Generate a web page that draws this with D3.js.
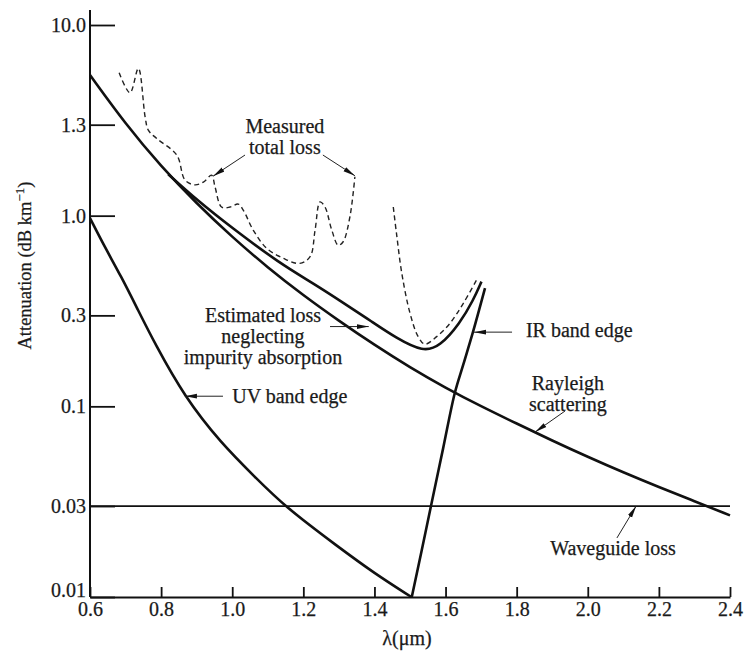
<!DOCTYPE html>
<html>
<head>
<meta charset="utf-8">
<script src="https://cdn.jsdelivr.net/npm/d3@7"></script>
<style>
  html, body { margin: 0; padding: 0; background: #ffffff; }
  svg { display: block; }
  text { font-family: "Liberation Serif", "Times New Roman", serif; fill: #1a1a1a; }
</style>
</head>
<body>
<svg id="chart" width="744" height="651"></svg>
<script>
// ---------- data (wavelength in µm, attenuation in dB/km) ----------
const xTicks = [0.6, 0.8, 1.0, 1.2, 1.4, 1.6, 1.8, 2.0, 2.2, 2.4];
const xTickLabels = ["0.6", "0.8", "1.0", "1.2", "1.4", "1.6", "1.8", "2.0", "2.2", "2.4"];
const yTicks = [0.01, 0.03, 0.1, 0.3, 1.0, 3.0, 10.0];
const yTickLabels = ["0.01", "0.03", "0.1", "0.3", "1.0", "1.3", "10.0"];

const rayleighLambda = [0.6, 0.7, 0.8, 0.9, 1.0, 1.1, 1.2, 1.3, 1.4, 1.5, 1.6, 1.7, 1.8, 1.9, 2.0, 2.1, 2.2, 2.3, 2.4];
const rayleighLoss   = [5.46, 3.02, 1.81, 1.156, 0.772, 0.534, 0.382, 0.281, 0.210, 0.160, 0.125, 0.100, 0.0812, 0.0661, 0.0543, 0.0450, 0.0377, 0.0318, 0.0268];

const estimatedLambda = [0.82, 0.9, 1.0, 1.134, 1.228, 1.322, 1.39, 1.462, 1.537, 1.584, 1.64, 1.678, 1.701];
const estimatedLoss   = [1.65, 1.21, 0.86, 0.562, 0.442, 0.340, 0.28, 0.2275, 0.193, 0.206, 0.272, 0.36, 0.451];

const uvLambda = [0.6, 0.641, 0.688, 0.735, 0.782, 0.866, 0.969, 1.063, 1.148, 1.297, 1.40, 1.504];
const uvLoss   = [0.97, 0.687, 0.479, 0.32, 0.214, 0.112, 0.064, 0.0428, 0.0298, 0.0184, 0.0133, 0.01];

const irLambda = [1.505, 1.533, 1.559, 1.593, 1.626, 1.65, 1.677, 1.711];
const irLoss   = [0.01, 0.0176, 0.03, 0.06, 0.1175, 0.166, 0.245, 0.417];

const waveguideLambda = [0.6, 2.4];
const waveguideLoss   = [0.03, 0.03];

const measured1Lambda = [0.682, 0.7125, 0.736, 0.755, 0.764, 0.7875, 0.844, 0.867, 0.895, 0.919, 0.942, 0.9515, 0.970, 0.994, 1.017, 1.031, 1.059, 1.097, 1.144, 1.19, 1.219, 1.233, 1.247, 1.261, 1.28, 1.298, 1.312, 1.331, 1.345];
const measured1Loss   = [5.61, 4.41, 5.92, 3.30, 2.81, 2.54, 2.08, 1.54, 1.45, 1.50, 1.63, 1.42, 1.11, 1.11, 1.15, 1.07, 0.84, 0.674, 0.597, 0.562, 0.609, 0.84, 1.18, 1.11, 0.84, 0.70, 0.73, 0.987, 1.60];

const measured2Lambda = [1.453, 1.462, 1.477, 1.5, 1.523, 1.542, 1.575, 1.612, 1.65, 1.687];
const measured2Loss   = [1.11, 0.807, 0.498, 0.308, 0.232, 0.212, 0.232, 0.272, 0.347, 0.459];

// annotation text anchors / arrows in data coordinates
const annotations = [
  { lines: ["Measured", "total loss"], at: [1.148, 2.95], anchor: "middle",
    arrows: [[[1.036, 2.08], [0.946, 1.61]], [[1.255, 2.08], [1.345, 1.62]]] },
  { lines: ["Estimated loss", "neglecting", "impurity absorption"], at: [1.0865, 0.301], anchor: "middle",
    arrows: [[[1.275, 0.262], [1.384, 0.262]]] },
  { lines: ["UV band edge"], at: [1.0, 0.113], anchor: "start",
    arrows: [[[0.974, 0.113], [0.867, 0.113]]] },
  { lines: ["IR band edge"], at: [1.826, 0.251], anchor: "start",
    arrows: [[[1.787, 0.245], [1.680, 0.245]]] },
  { lines: ["Rayleigh", "scattering"], at: [1.944, 0.1325], anchor: "middle",
    arrows: [[[1.936, 0.0945], [1.852, 0.0733]]] },
  { lines: ["Waveguide loss"], at: [2.071, 0.0181], anchor: "middle",
    arrows: [[[2.082, 0.0204], [2.136, 0.0300]]] }
];

// ---------- drawing ----------
const svg = d3.select("#chart");
const x = d3.scaleLinear().domain([0.6, 2.4]).range([90, 730]);
const y = d3.scaleLog().domain([0.01, 10]).range([597, 25]);

const FONT = 20;
const INK = "#1a1a1a";

function inkText(sel) {
  return sel.attr("fill", INK).attr("stroke", INK).attr("stroke-width", 0.25)
    .attr("font-family", "Liberation Serif, serif");
}

// arrowhead marker
svg.append("defs").append("marker")
  .attr("id", "ah").attr("viewBox", "0 0 12 6")
  .attr("refX", 12).attr("refY", 3)
  .attr("markerWidth", 12).attr("markerHeight", 6)
  .attr("markerUnits", "userSpaceOnUse")
  .attr("orient", "auto")
  .append("path").attr("d", "M0,0.6 L12,3 L0,5.4 Z").attr("fill", "#111");

// axes
const yAxis = d3.axisLeft(y)
  .tickValues(yTicks)
  .tickFormat((d, i) => yTickLabels[i])
  .tickSizeInner(-25).tickSizeOuter(0).tickPadding(4);
const gy = svg.append("g").attr("transform", `translate(${x.range()[0]},0)`).call(yAxis);
gy.select(".domain").remove();
gy.selectAll(".tick line").attr("stroke", "#111").attr("stroke-width", 1.8);
inkText(gy.selectAll(".tick text").attr("font-size", FONT));
gy.selectAll(".tick text").filter(d => d === 0.01).attr("dy", "-0.05em");

svg.append("line")
  .attr("x1", x.range()[0]).attr("x2", x.range()[0])
  .attr("y1", y.range()[1] - 15).attr("y2", y.range()[0])
  .attr("stroke", "#111").attr("stroke-width", 2);

const xAxis = d3.axisBottom(x)
  .tickValues(xTicks)
  .tickFormat((d, i) => xTickLabels[i])
  .tickSizeInner(-10).tickSizeOuter(0).tickPadding(5);
const gx = svg.append("g").attr("transform", `translate(0,${y.range()[0]})`).call(xAxis);
gx.select(".domain").attr("stroke", "#111").attr("stroke-width", 2);
gx.selectAll(".tick line").attr("stroke", "#111").attr("stroke-width", 1.8);
inkText(gx.selectAll(".tick text").attr("font-size", FONT));

// axis titles
const yt = inkText(svg.append("text"))
  .attr("transform", `translate(31,${(y(0.3) + y(1.0)) / 2}) rotate(-90)`)
  .attr("text-anchor", "middle")
  .attr("font-size", 18.5);
yt.append("tspan").text("Attenuation (dB km");
yt.append("tspan").attr("font-size", 13).attr("dy", -7).text("\u22121");
yt.append("tspan").attr("dy", 7).text(")");

inkText(svg.append("text"))
  .attr("x", (x(1.4) + x(1.6)) / 2 - 3)
  .attr("y", 645)
  .attr("text-anchor", "middle")
  .attr("font-size", FONT)
  .text("\u03bb(\u03bcm)");

// curves
function pts(xs, ys) { return xs.map((d, i) => [d, ys[i]]); }
const smooth = d3.line().x(d => x(d[0])).y(d => y(d[1])).curve(d3.curveBasis);
const line = d3.line().x(d => x(d[0])).y(d => y(d[1])).curve(d3.curveCatmullRom.alpha(0.5));
const straight = d3.line().x(d => x(d[0])).y(d => y(d[1]));

const plot = svg.append("g");
plot.append("path").datum(pts(waveguideLambda, waveguideLoss))
  .attr("d", straight).attr("fill", "none").attr("stroke", "#111").attr("stroke-width", 1.8);
plot.append("path").datum(pts(rayleighLambda, rayleighLoss))
  .attr("d", smooth).attr("fill", "none").attr("stroke", "#111").attr("stroke-width", 2.6);
plot.append("path").datum(pts(estimatedLambda, estimatedLoss))
  .attr("d", smooth).attr("fill", "none").attr("stroke", "#111").attr("stroke-width", 2.6);
plot.append("path").datum(pts(uvLambda, uvLoss))
  .attr("d", smooth).attr("fill", "none").attr("stroke", "#111").attr("stroke-width", 2.6);
plot.append("path").datum(pts(irLambda, irLoss))
  .attr("d", line).attr("fill", "none").attr("stroke", "#111").attr("stroke-width", 2.6);
[pts(measured1Lambda, measured1Loss), pts(measured2Lambda, measured2Loss)].forEach(seg => {
  plot.append("path").datum(seg)
    .attr("d", line).attr("fill", "none").attr("stroke", "#222")
    .attr("stroke-width", 1.4).attr("stroke-dasharray", "5,3.5");
});

// annotations
const LINE_H = 21;
annotations.forEach(a => {
  const t = inkText(svg.append("text"))
    .attr("x", x(a.at[0])).attr("y", y(a.at[1]))
    .attr("text-anchor", a.anchor)
    .attr("dominant-baseline", "central")
    .attr("font-size", FONT);
  a.lines.forEach((s, i) => {
    t.append("tspan").attr("x", x(a.at[0])).attr("y", y(a.at[1]) + i * LINE_H)
      .attr("dominant-baseline", "central").text(s);
  });
  a.arrows.forEach(ar => {
    svg.append("line")
      .attr("x1", x(ar[0][0])).attr("y1", y(ar[0][1]))
      .attr("x2", x(ar[1][0])).attr("y2", y(ar[1][1]))
      .attr("stroke", "#222").attr("stroke-width", 1)
      .attr("marker-end", "url(#ah)");
  });
});
</script>
</body>
</html>
